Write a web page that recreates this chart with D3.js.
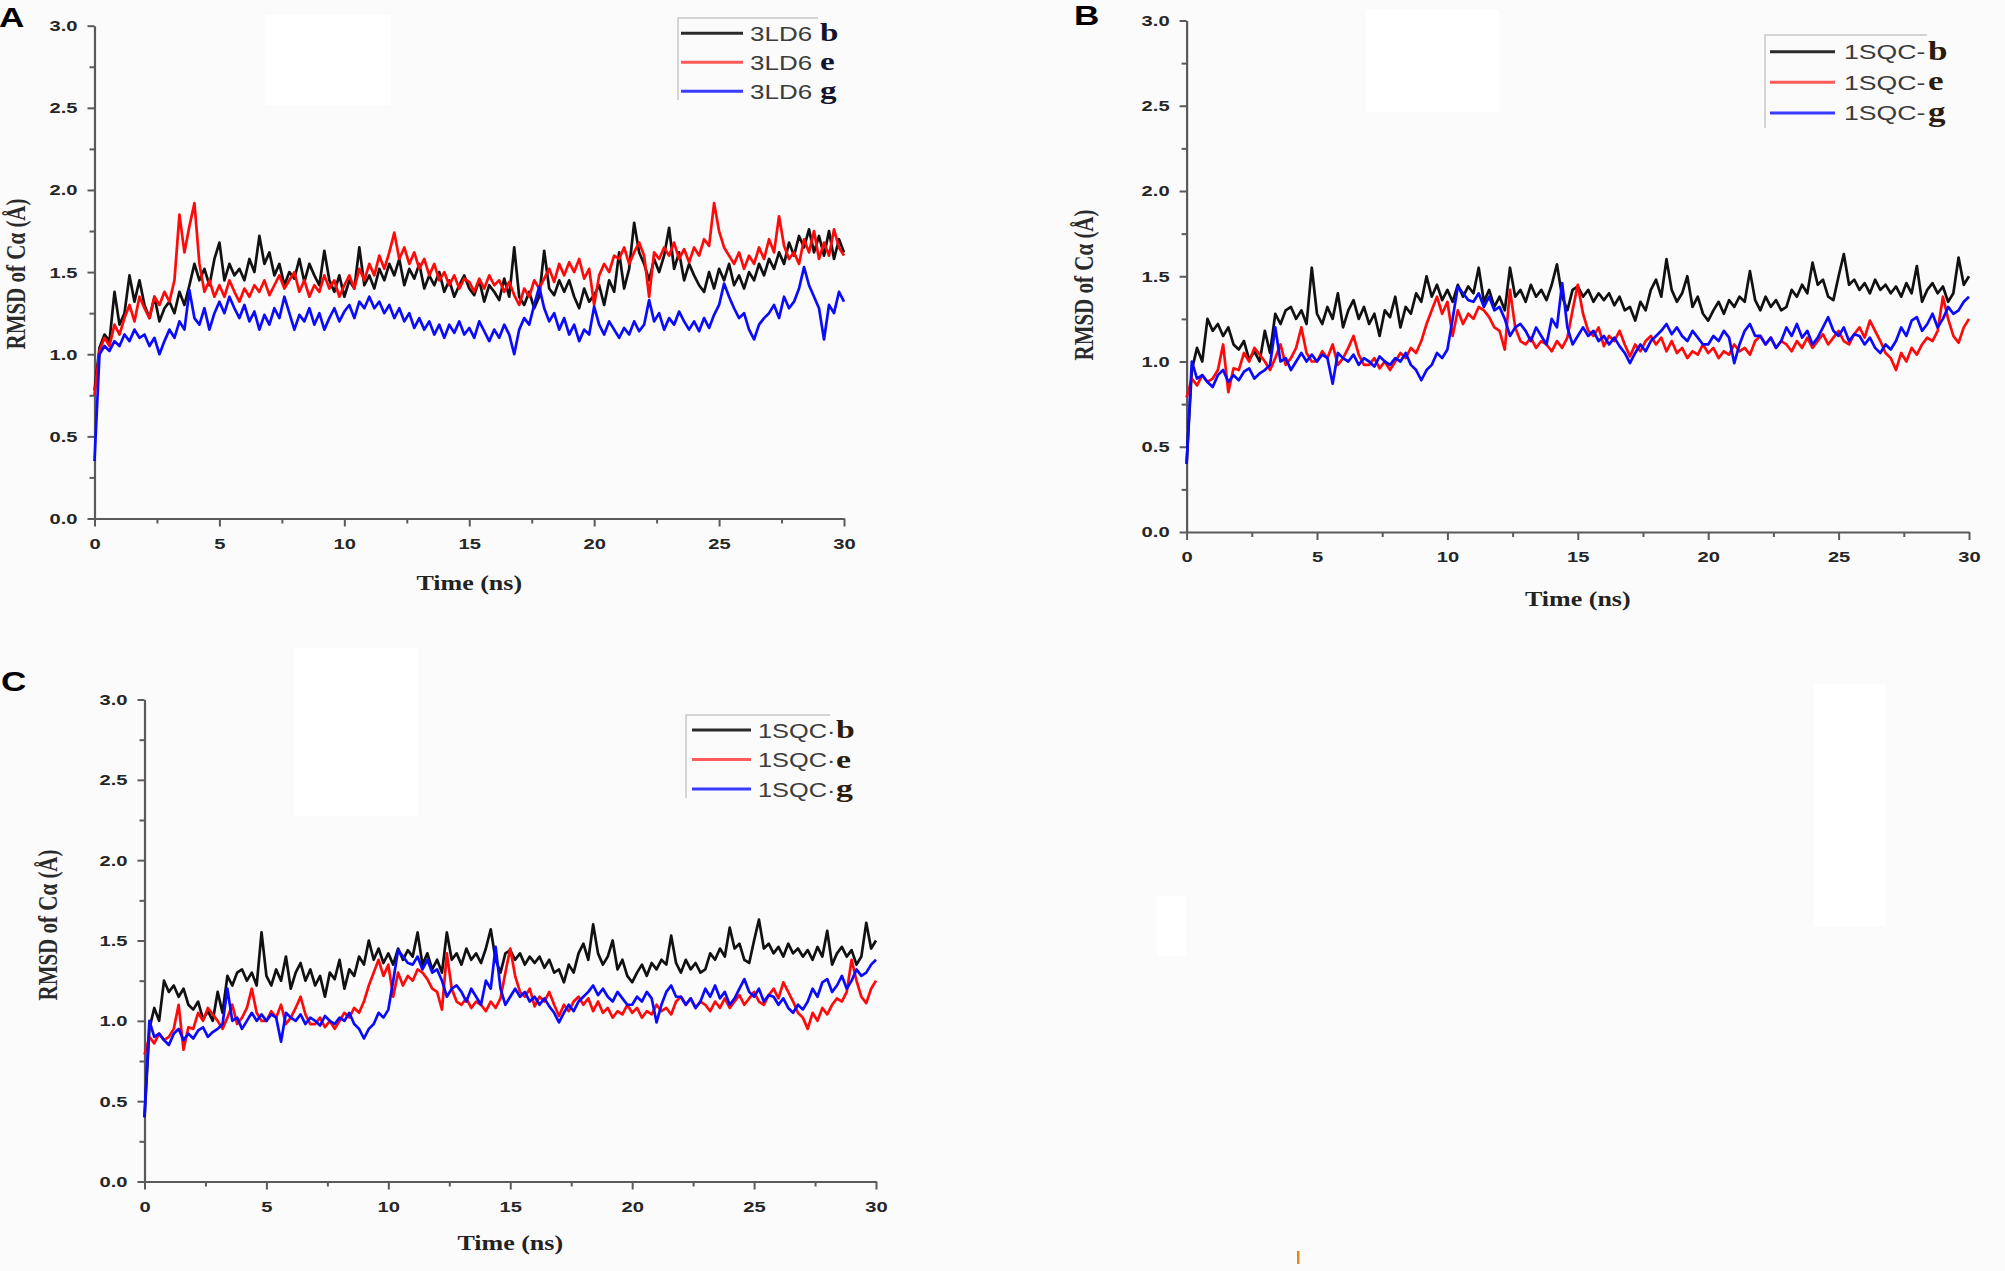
<!DOCTYPE html>
<html><head><meta charset="utf-8">
<script src="https://cdn.jsdelivr.net/npm/d3@7"></script>
<style>html,body{margin:0;padding:0;background:#fbfbfb;}svg{display:block}</style>
</head><body>
<svg id="chart" width="2005" height="1271"></svg>
<script>
// ---------------- DATA ----------------
const timeStep = 0.2;                 // ns between samples
const xMajorTicks = [0, 5, 10, 15, 20, 25, 30];
const xMinorTicks = [2.5, 7.5, 12.5, 17.5, 22.5, 27.5];
const yMajorTicks = [0, 0.5, 1.0, 1.5, 2.0, 2.5, 3.0];
const yMinorTicks = [0.25, 0.75, 1.25, 1.75, 2.25, 2.75];
const seriesKeys = ["b", "e", "g"];
const xTitle = "Time (ns)";
const yTitle = "RMSD of C\u03B1 (\u00C5)";

// Panel A : 3LD6
const ld6_b = [
 0.78,1.04,1.12,1.08,1.38, 1.18,1.25,1.48,1.32,1.45, 1.30,1.22,1.35,1.20,1.28, 1.32,1.25,1.38,1.30,1.42,
 1.55,1.45,1.52,1.42,1.58, 1.68,1.45,1.55,1.48,1.52, 1.45,1.58,1.50,1.72,1.55, 1.62,1.48,1.55,1.42,1.50,
 1.46,1.58,1.44,1.55,1.48, 1.42,1.63,1.45,1.38,1.48, 1.35,1.45,1.40,1.65,1.42, 1.48,1.40,1.52,1.45,1.55,
 1.48,1.58,1.42,1.52,1.46, 1.55,1.40,1.48,1.42,1.50, 1.38,1.45,1.35,1.42,1.48, 1.40,1.36,1.45,1.32,1.42,
 1.38,1.33,1.46,1.35,1.65, 1.35,1.30,1.38,1.28,1.35, 1.63,1.40,1.36,1.45,1.38, 1.45,1.35,1.28,1.40,1.32,
 1.36,1.42,1.30,1.45,1.38, 1.62,1.40,1.52,1.80,1.62, 1.55,1.45,1.58,1.50,1.60, 1.77,1.52,1.62,1.45,1.55,
 1.48,1.42,1.38,1.50,1.40, 1.52,1.45,1.55,1.42,1.48, 1.40,1.50,1.45,1.55,1.48, 1.58,1.52,1.62,1.55,1.68,
 1.60,1.72,1.65,1.76,1.62, 1.72,1.60,1.75,1.58,1.70, 1.62];
const ld6_e = [
 0.75,1.02,1.10,1.05,1.18, 1.12,1.22,1.30,1.20,1.35, 1.28,1.22,1.35,1.30,1.38, 1.32,1.45,1.85,1.62,1.78,
 1.92,1.55,1.38,1.45,1.35, 1.42,1.35,1.45,1.38,1.32, 1.40,1.35,1.42,1.38,1.45, 1.36,1.42,1.48,1.40,1.45,
 1.50,1.38,1.45,1.35,1.42, 1.38,1.48,1.40,1.45,1.35, 1.42,1.48,1.40,1.52,1.45, 1.55,1.48,1.60,1.52,1.62,
 1.74,1.58,1.65,1.55,1.62, 1.52,1.58,1.48,1.55,1.45, 1.50,1.42,1.48,1.40,1.46, 1.44,1.38,1.46,1.40,1.48,
 1.42,1.45,1.38,1.44,1.36, 1.30,1.40,1.35,1.45,1.40, 1.46,1.52,1.44,1.55,1.48, 1.56,1.50,1.58,1.46,1.52,
 1.30,1.48,1.55,1.50,1.60, 1.58,1.65,1.55,1.62,1.68, 1.60,1.35,1.62,1.58,1.65, 1.60,1.68,1.58,1.64,1.56,
 1.65,1.60,1.70,1.66,1.92, 1.75,1.65,1.60,1.55,1.62, 1.52,1.60,1.55,1.65,1.58, 1.70,1.62,1.84,1.66,1.58,
 1.62,1.55,1.70,1.62,1.75, 1.58,1.68,1.60,1.76,1.65, 1.60];
const ld6_g = [
 0.35,1.00,1.05,1.02,1.08, 1.05,1.12,1.08,1.15,1.10, 1.12,1.05,1.10,1.00,1.08, 1.15,1.10,1.20,1.15,1.39,
 1.22,1.18,1.28,1.15,1.25, 1.32,1.25,1.35,1.28,1.22, 1.30,1.20,1.26,1.15,1.24, 1.18,1.28,1.22,1.35,1.25,
 1.15,1.24,1.20,1.28,1.18, 1.25,1.15,1.22,1.28,1.20, 1.26,1.30,1.22,1.32,1.28, 1.35,1.28,1.32,1.25,1.30,
 1.22,1.28,1.20,1.25,1.16, 1.22,1.15,1.20,1.12,1.18, 1.10,1.18,1.13,1.20,1.12, 1.16,1.10,1.20,1.14,1.08,
 1.15,1.10,1.18,1.12,1.00, 1.15,1.22,1.18,1.30,1.41, 1.28,1.20,1.25,1.15,1.22, 1.12,1.18,1.08,1.15,1.12,
 1.29,1.18,1.12,1.20,1.15, 1.10,1.16,1.12,1.20,1.14, 1.18,1.33,1.20,1.25,1.15, 1.22,1.18,1.26,1.20,1.15,
 1.20,1.14,1.22,1.16,1.24, 1.30,1.43,1.35,1.28,1.22, 1.25,1.15,1.09,1.18,1.22, 1.25,1.30,1.22,1.35,1.28,
 1.32,1.40,1.53,1.42,1.35, 1.28,1.09,1.30,1.25,1.38, 1.32];

// Panels B and C : 1SQC
const sqc_b = [
 0.40,0.95,1.08,1.00,1.25, 1.18,1.22,1.15,1.20,1.10, 1.07,1.12,1.01,1.06,1.00, 1.18,1.05,1.28,1.22,1.30,
 1.32,1.25,1.30,1.22,1.55, 1.28,1.22,1.32,1.25,1.40, 1.20,1.30,1.36,1.25,1.32, 1.22,1.28,1.15,1.30,1.26,
 1.38,1.20,1.32,1.28,1.40, 1.35,1.50,1.38,1.45,1.36, 1.42,1.35,1.45,1.38,1.44, 1.40,1.55,1.35,1.42,1.32,
 1.38,1.30,1.55,1.38,1.42, 1.35,1.45,1.38,1.42,1.36, 1.45,1.57,1.38,1.30,1.42, 1.44,1.38,1.42,1.35,1.40,
 1.36,1.40,1.33,1.38,1.30, 1.32,1.24,1.35,1.30,1.42, 1.48,1.38,1.60,1.42,1.35, 1.40,1.50,1.32,1.38,1.28,
 1.24,1.30,1.35,1.28,1.36, 1.32,1.38,1.35,1.53,1.36, 1.30,1.38,1.32,1.36,1.30, 1.32,1.42,1.38,1.45,1.40,
 1.58,1.45,1.48,1.38,1.36, 1.50,1.63,1.45,1.48,1.42, 1.46,1.40,1.48,1.42,1.45, 1.40,1.44,1.38,1.46,1.40,
 1.56,1.35,1.42,1.46,1.40, 1.44,1.35,1.40,1.61,1.45, 1.50];
const sqc_e = [
 0.79,0.90,0.86,0.92,0.88, 0.90,0.95,1.10,0.82,0.96, 0.95,1.05,1.00,1.08,1.04, 1.00,0.95,1.02,1.10,0.98,
 1.02,1.08,1.20,1.05,1.00, 1.00,1.06,1.02,1.10,0.98, 1.02,1.08,1.15,1.04,0.98, 0.98,1.02,0.96,1.00,0.95,
 1.00,1.05,1.02,1.08,1.05, 1.12,1.22,1.30,1.38,1.28, 1.35,1.15,1.30,1.22,1.28, 1.25,1.32,1.30,1.26,1.20,
 1.18,1.07,1.42,1.20,1.12, 1.10,1.14,1.08,1.12,1.10, 1.06,1.12,1.08,1.14,1.30, 1.45,1.28,1.18,1.15,1.20,
 1.09,1.15,1.12,1.18,1.10, 1.03,1.10,1.06,1.12,1.15, 1.10,1.14,1.06,1.12,1.05, 1.08,1.02,1.06,1.04,1.10,
 1.05,1.08,1.02,1.06,1.04, 1.10,1.06,1.08,1.04,1.12, 1.15,1.10,1.14,1.08,1.12, 1.10,1.06,1.12,1.08,1.14,
 1.08,1.12,1.16,1.10,1.14, 1.18,1.12,1.10,1.16,1.20, 1.14,1.24,1.18,1.12,1.05, 1.02,0.95,1.05,1.00,1.08,
 1.04,1.10,1.14,1.12,1.18, 1.38,1.25,1.15,1.11,1.20, 1.25];
const sqc_g = [
 0.40,1.00,0.90,0.92,0.88, 0.85,0.92,0.95,0.88,0.92, 0.89,0.94,0.96,0.90,0.93, 0.95,0.98,1.20,1.00,1.02,
 0.95,1.00,1.05,1.00,1.04, 1.00,1.04,1.02,0.87,1.05, 1.02,1.00,1.04,0.98,1.02, 1.00,0.97,1.03,1.00,0.98,
 1.02,1.00,1.05,0.98,0.95, 0.89,0.95,0.98,1.05,1.02, 1.07,1.25,1.44,1.40,1.36, 1.35,1.40,1.32,1.38,1.30,
 1.32,1.25,1.15,1.20,1.22, 1.18,1.12,1.20,1.15,1.10, 1.25,1.20,1.46,1.20,1.10, 1.15,1.20,1.15,1.18,1.12,
 1.15,1.10,1.14,1.09,1.05, 0.99,1.05,1.10,1.06,1.12, 1.15,1.18,1.22,1.16,1.20, 1.15,1.12,1.18,1.14,1.10,
 1.10,1.15,1.12,1.18,1.14, 0.99,1.10,1.18,1.22,1.15, 1.15,1.10,1.14,1.08,1.12, 1.20,1.15,1.22,1.14,1.18,
 1.10,1.14,1.20,1.26,1.18, 1.15,1.20,1.12,1.16,1.15, 1.10,1.14,1.08,1.05,1.10, 1.07,1.12,1.20,1.15,1.24,
 1.26,1.18,1.22,1.28,1.20, 1.25,1.32,1.28,1.30,1.35, 1.38];

// ---------------- LAYOUT ----------------
const lineColors = {b: "#111111", e: "#ff0a0a", g: "#0a0aff"};
const legendColors = {b: "#2a2a2a", e: "#ff5a5a", g: "#3a3aff"};
const SX = 1.3; // horizontal stretch of the original image's text

const panels = [
  {id: "A", label: "A", labelPos: [-1, 27], x0: 94.5, x1: 844, y0: 518.5, y1: 25.7,
   series: {b: ld6_b, e: ld6_e, g: ld6_g}, name: "3LD6", sep: "",
   xTitleY: 590, yTitlePos: [15, 274],
   legend: {box: [678, 18, 818, 100], rows: [33.3, 62.3, 91.3], line: [681, 743], text: 750, letter: 820, fs: 20, lfs: 25.5, letterColor: "#14142c"}},
  {id: "B", label: "B", labelPos: [1074, 25], x0: 1186.6, x1: 1969, y0: 532, y1: 20.5,
   series: {b: sqc_b, e: sqc_e, g: sqc_g}, name: "1SQC", sep: "-",
   xTitleY: 606, yTitlePos: [1083, 285],
   legend: {box: [1765, 35, 1927, 128], rows: [51.7, 82.3, 112.9], line: [1770, 1835], text: 1844, letter: 1928, fs: 20.5, lfs: 27, letterColor: "#2b1c0c"}},
  {id: "C", label: "C", labelPos: [1, 691], x0: 144.5, x1: 876, y0: 1181.5, y1: 699.5,
   series: {b: sqc_b, e: sqc_e, g: sqc_g}, name: "1SQC", sep: "\u00B7",
   xTitleY: 1250, yTitlePos: [47.5, 925],
   legend: {box: [686, 715, 830, 798], rows: [730, 759.5, 789], line: [692, 751], text: 758, letter: 836, fs: 19.5, lfs: 26, letterColor: "#2b1c0c"}}
];

const svg = d3.select("#chart");

// background artefacts (white patches of the scanned figure)
const patches = [[266,15,125,90],[1366,10,133,102],[294,648,124,168],[1814,684,71,242],[1157,896,29,60]];
svg.selectAll("rect.patch").data(patches).join("rect").attr("class","patch")
  .attr("x", d => d[0]).attr("y", d => d[1]).attr("width", d => d[2]).attr("height", d => d[3])
  .attr("fill", "#ffffff");
svg.append("rect").attr("x", 1297).attr("y", 1251).attr("width", 2.5).attr("height", 13).attr("fill", "#e08a1a");

function stretched(g, x, y, text, opts) {
  return g.append("text")
    .attr("transform", `translate(${x},${y}) scale(${SX},1)`)
    .attr("font-family", opts.family).attr("font-size", opts.size)
    .attr("font-weight", opts.weight || "bold").attr("fill", opts.fill || "#1a1a1a")
    .attr("text-anchor", opts.anchor || "start").text(text);
}

panels.forEach(p => {
  const g = svg.append("g");
  const n = p.series.b.length;
  const times = d3.range(n).map(i => +(i * timeStep).toFixed(2));
  const x = d3.scaleLinear().domain([0, 30]).range([p.x0, p.x1]);
  const y = d3.scaleLinear().domain([0, 3]).range([p.y0, p.y1]);

  // minor ticks
  g.append("g").attr("transform", `translate(0,${p.y0})`)
    .call(d3.axisBottom(x).tickValues(xMinorTicks).tickSize(5).tickFormat(""))
    .call(s => s.select(".domain").remove());
  g.append("g").attr("transform", `translate(${p.x0},0)`)
    .call(d3.axisLeft(y).tickValues(yMinorTicks).tickSize(5).tickFormat(""))
    .call(s => s.select(".domain").remove());

  // major axes
  const xa = g.append("g").attr("transform", `translate(0,${p.y0})`)
    .call(d3.axisBottom(x).tickValues(xMajorTicks).tickSize(8).tickSizeOuter(0).tickPadding(11).tickFormat(d3.format("d")));
  const ya = g.append("g").attr("transform", `translate(${p.x0},0)`)
    .call(d3.axisLeft(y).tickValues(yMajorTicks).tickSize(7).tickSizeOuter(0).tickFormat(d3.format(".1f")));
  [xa, ya].forEach(a => {
    a.select(".domain").attr("stroke", "#5a5a5a").attr("stroke-width", 2.2);
    a.selectAll(".tick text").attr("font-family", "Liberation Sans, Arial, sans-serif")
      .attr("font-size", 15.5).attr("font-weight", "bold").attr("fill", "#262626");
  });
  xa.selectAll(".tick text").attr("transform", `scale(${SX},1)`);
  ya.selectAll(".tick text").attr("x", -17 / SX).attr("transform", `scale(${SX},1)`);
  g.selectAll(".tick line").attr("stroke", "#5a5a5a").attr("stroke-width", 2);

  // data lines
  const line = d3.line().x((d, i) => x(times[i])).y(d => y(d));
  seriesKeys.forEach(k => {
    g.append("path").datum(p.series[k]).attr("d", line)
      .attr("fill", "none").attr("stroke", lineColors[k]).attr("stroke-width", 2.7)
      .attr("stroke-linejoin", "round");
  });

  // axis titles
  stretched(g, (p.x0 + p.x1) / 2, p.xTitleY, xTitle,
    {family: "Liberation Serif, Times New Roman, serif", size: 20, anchor: "middle", fill: "#222"});
  g.append("text")
    .attr("transform", `translate(${p.yTitlePos[0]},${p.yTitlePos[1]}) rotate(-90) scale(1,${SX})`)
    .attr("dy", "0.35em").attr("text-anchor", "middle")
    .attr("font-family", "Liberation Serif, Times New Roman, serif").attr("font-size", 21)
    .attr("font-weight", "bold").attr("fill", "#2a2a2a").text(yTitle);

  // panel label
  stretched(g, p.labelPos[0], p.labelPos[1], p.label,
    {family: "Liberation Sans, Arial, sans-serif", size: 27, fill: "#000"});

  // legend: frame, sample lines, labels
  const L = p.legend;
  g.append("path").attr("d", `M${L.box[2]},${L.box[1]}H${L.box[0]}V${L.box[3]}`)
    .attr("fill", "none").attr("stroke", "#c8c8c8").attr("stroke-width", 1.5);
  seriesKeys.forEach((k, i) => {
    const ry = L.rows[i];
    g.append("line").attr("x1", L.line[0]).attr("x2", L.line[1]).attr("y1", ry).attr("y2", ry)
      .attr("stroke", legendColors[k]).attr("stroke-width", 3);
    stretched(g, L.text, ry + 7.5, p.name + p.sep,
      {family: "Liberation Sans, Arial, sans-serif", size: L.fs, weight: "normal", fill: "#3c3c3c"});
    stretched(g, L.letter, ry + 8, k,
      {family: "Liberation Serif, Times New Roman, serif", size: L.lfs, fill: L.letterColor});
  });
});
</script>
</body></html>
